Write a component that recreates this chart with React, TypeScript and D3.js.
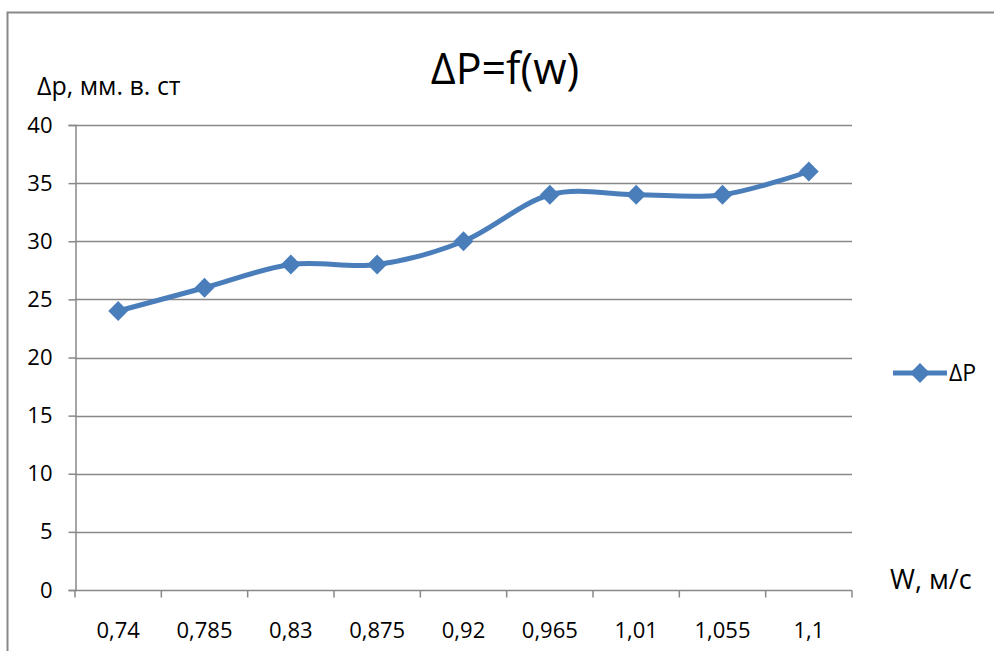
import React, { useRef, useEffect } from 'react'
import * as d3 from 'd3'

const categories = ['0,74', '0,785', '0,83', '0,875', '0,92', '0,965', '1,01', '1,055', '1,1']
const dpValues = [24, 26, 28, 28, 30, 34, 34, 34, 36]
const yTicks = [0, 5, 10, 15, 20, 25, 30, 35, 40]

const W = 994
const H = 651
const FONT = '"Open Sans", "Liberation Sans", sans-serif'
const BLUE = '#4a7ebb'

export default function App() {
  const ref = useRef<SVGSVGElement>(null)

  useEffect(() => {
    const svg = d3.select(ref.current)
    svg.selectAll('*').remove()

    const left = 75, right = 852, top = 125, bottom = 590

    // outer chart frame (runs past right/bottom edges of the picture)
    svg.append('rect')
      .attr('x', 7.5).attr('y', 12.5)
      .attr('width', W + 20).attr('height', H + 20)
      .attr('fill', 'white').attr('stroke', '#888').attr('stroke-width', 2)

    const x = d3.scaleBand().domain(categories).range([left, right]).padding(0)
    const y = d3.scaleLinear().domain([0, 40]).range([bottom, top])

    // gridlines
    svg.append('g').selectAll('line')
      .data(yTicks.filter(d => d > 0))
      .enter().append('line')
      .attr('x1', left).attr('x2', right)
      .attr('y1', d => Math.round(y(d)) + 0.5).attr('y2', d => Math.round(y(d)) + 0.5)
      .attr('stroke', '#888').attr('stroke-width', 1.5)

    // y axis
    const yAxis = svg.append('g').attr('transform', `translate(${left + 0.5},0)`)
      .call(d3.axisLeft(y).tickValues(yTicks).tickSize(7).tickPadding(16))
    yAxis.select('.domain').attr('stroke', '#888').attr('stroke-width', 1.5)
    yAxis.selectAll('.tick line').attr('stroke', '#888').attr('stroke-width', 1.5)
    yAxis.selectAll('.tick text')
      .attr('font-family', FONT).attr('font-size', 22).attr('fill', '#000')

    // x axis with ticks at category boundaries
    const xg = svg.append('g').attr('transform', `translate(0,${bottom + 0.5})`)
    xg.append('line').attr('x1', left).attr('x2', right)
      .attr('stroke', '#888').attr('stroke-width', 1.5)
    const bounds = categories.map(c => x(c) as number).concat([right])
    xg.selectAll('line.tk').data(bounds).enter().append('line')
      .attr('class', 'tk')
      .attr('x1', d => d).attr('x2', d => d).attr('y1', 0).attr('y2', 7)
      .attr('stroke', '#888').attr('stroke-width', 1.5)
    xg.selectAll('text').data(categories).enter().append('text')
      .attr('x', d => (x(d) as number) + x.bandwidth() / 2)
      .attr('y', 47)
      .attr('text-anchor', 'middle')
      .attr('font-family', FONT).attr('font-size', 22)
      .text(d => d)

    // smoothed series
    const pts: [number, number][] = dpValues.map((v, i) => [
      (x(categories[i]) as number) + x.bandwidth() / 2, y(v)
    ])
    svg.append('path')
      .attr('d', d3.line().curve(d3.curveCardinal.tension(0))(pts))
      .attr('fill', 'none').attr('stroke', BLUE).attr('stroke-width', 5)
      .attr('stroke-linejoin', 'round')

    const diamond = d3.symbol().type(d3.symbolDiamond2).size(250)
    svg.append('g').selectAll('path')
      .data(pts).enter().append('path')
      .attr('d', diamond())
      .attr('transform', d => `translate(${d[0]},${d[1]})`)
      .attr('fill', BLUE)

    // title and axis titles
    svg.append('text').attr('x', 505).attr('y', 84)
      .attr('text-anchor', 'middle')
      .attr('font-family', FONT).attr('font-size', 43)
      .text('ΔP=f(w)')
    svg.append('text').attr('x', 37).attr('y', 95)
      .attr('font-family', FONT).attr('font-size', 25)
      .text('Δp, мм. в. ст')
    svg.append('text').attr('x', 890).attr('y', 589)
      .attr('font-family', FONT).attr('font-size', 27)
      .text('W, м/с')

    // legend
    const lg = svg.append('g').attr('transform', 'translate(893,373)')
    lg.append('line').attr('x1', 0).attr('x2', 54).attr('y1', 0).attr('y2', 0)
      .attr('stroke', BLUE).attr('stroke-width', 5)
    lg.append('path').attr('d', diamond()).attr('transform', 'translate(27,0)').attr('fill', BLUE)
    lg.append('text').attr('x', 56).attr('y', 8)
      .attr('font-family', FONT).attr('font-size', 23)
      .text('ΔP')
  }, [])

  return (
    <svg ref={ref} width={W} height={H}
      style={{ position: 'absolute', left: 0, top: 0, background: 'white' }} />
  )
}
